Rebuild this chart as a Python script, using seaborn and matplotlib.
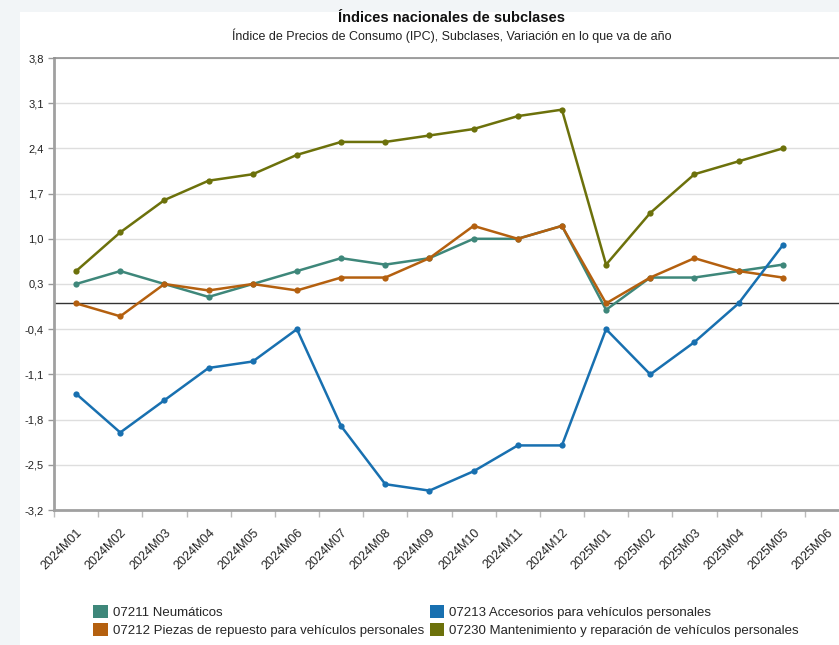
import numpy as np
import pandas as pd
import matplotlib
matplotlib.use('Agg')
import matplotlib.pyplot as plt
import matplotlib.patches as mpatches
import seaborn as sns

# Periods (2025M06 has no data yet)
periodos = ['2024M01', '2024M02', '2024M03', '2024M04', '2024M05', '2024M06',
            '2024M07', '2024M08', '2024M09', '2024M10', '2024M11', '2024M12',
            '2025M01', '2025M02', '2025M03', '2025M04', '2025M05', '2025M06']

# Values (variation so far this year, %)
neumaticos = [0.3, 0.5, 0.3, 0.1, 0.3, 0.5, 0.7, 0.6, 0.7, 1.0, 1.0, 1.2,
              -0.1, 0.4, 0.4, 0.5, 0.6]
piezas = [0.0, -0.2, 0.3, 0.2, 0.3, 0.2, 0.4, 0.4, 0.7, 1.2, 1.0, 1.2,
          0.0, 0.4, 0.7, 0.5, 0.4]
accesorios = [-1.4, -2.0, -1.5, -1.0, -0.9, -0.4, -1.9, -2.8, -2.9, -2.6, -2.2, -2.2,
              -0.4, -1.1, -0.6, 0.0, 0.9]
mantenimiento = [0.5, 1.1, 1.6, 1.9, 2.0, 2.3, 2.5, 2.5, 2.6, 2.7, 2.9, 3.0,
                 0.6, 1.4, 2.0, 2.2, 2.4]

series_names = ['07211 Neumáticos',
                '07212 Piezas de repuesto para vehículos personales',
                '07213 Accesorios para vehículos personales',
                '07230 Mantenimiento y reparación de vehículos personales']
series_values = [neumaticos, piezas, accesorios, mantenimiento]
colores = ['#3e877a', '#b4600f', '#1870b0', '#6c710b']

yticks = [3.8, 3.1, 2.4, 1.7, 1.0, 0.3, -0.4, -1.1, -1.8, -2.5, -3.2]

# long-form table for seaborn
rows = []
for name, vals in zip(series_names, series_values):
    for i, v in enumerate(vals):
        rows.append({'pos': i, 'serie': name, 'valor': v})
df = pd.DataFrame(rows)

sns.set_theme(style='white')
plt.rcParams['font.family'] = ['Liberation Sans', 'DejaVu Sans']

fig = plt.figure(figsize=(8.39, 6.45), dpi=100, facecolor='#f2f5f7')
# white chart panel behind everything
fig.patches.append(mpatches.Rectangle((20 / 839, 0), 1, 1 - 12 / 645,
                                      transform=fig.transFigure, facecolor='white',
                                      edgecolor='none', zorder=-10))

ax = fig.add_axes([54 / 839, 1 - 510 / 645, (849 - 54) / 839, (510 - 58) / 645])
ax.set_facecolor('white')

palette = dict(zip(series_names, colores))
sns.lineplot(data=df, x='pos', y='valor', hue='serie', palette=palette,
             marker='o', markersize=4.5, markeredgewidth=0, linewidth=1.8,
             ax=ax, legend=False)

ax.axhline(0, color='#333333', linewidth=1, zorder=1.5)

ax.set_xlim(-0.5, len(periodos) - 0.5)
ax.set_ylim(-3.2, 3.8)
ax.set_yticks(yticks)
ax.set_yticklabels([f'{t:.1f}'.replace('.', ',') for t in yticks])
ax.set_xticks(range(len(periodos)))
ax.set_xticklabels(periodos, rotation=45, ha='right', rotation_mode='anchor')
ax.set_xticks(np.arange(-0.5, len(periodos), 1.0), minor=True)
ax.tick_params(axis='x', which='major', length=0, pad=12, labelsize=9, colors='#222222')
ax.tick_params(axis='x', which='minor', length=5, width=1, color='#bbbbbb', direction='out', bottom=True)
ax.tick_params(axis='y', length=4, width=1, labelsize=8, labelcolor='#222222', color='#999999', left=True)
ax.set_xlabel('')
ax.set_ylabel('')

ax.grid(axis='y', color='#dedede', linewidth=1)
ax.set_axisbelow(True)
for side in ['left', 'bottom']:
    ax.spines[side].set_color('#a0a0a0')
    ax.spines[side].set_linewidth(2)
ax.spines['top'].set_color('#909090')
ax.spines['top'].set_linewidth(1.2)
ax.spines['right'].set_visible(False)

fig.text(452 / 839, 1 - 18 / 645, 'Índices nacionales de subclases', ha='center', va='center',
         fontsize=10.5, fontweight='bold', color='#111111')
fig.text(452 / 839, 1 - 36 / 645,
         'Índice de Precios de Consumo (IPC), Subclases, Variación en lo que va de año',
         ha='center', va='center', fontsize=9, color='#222222')

handles = [mpatches.Patch(facecolor=c, edgecolor='none') for c in colores]
fig.legend(handles, series_names, ncol=2, loc='upper left',
           bbox_to_anchor=(88 / 839, 1 - 600 / 645), frameon=False, fontsize=9.5,
           handlelength=1.1, handleheight=1.1, handletextpad=0.4,
           columnspacing=0.4, labelspacing=0.3, borderaxespad=0)

fig.savefig('out.png', dpi=100, facecolor=fig.get_facecolor())
